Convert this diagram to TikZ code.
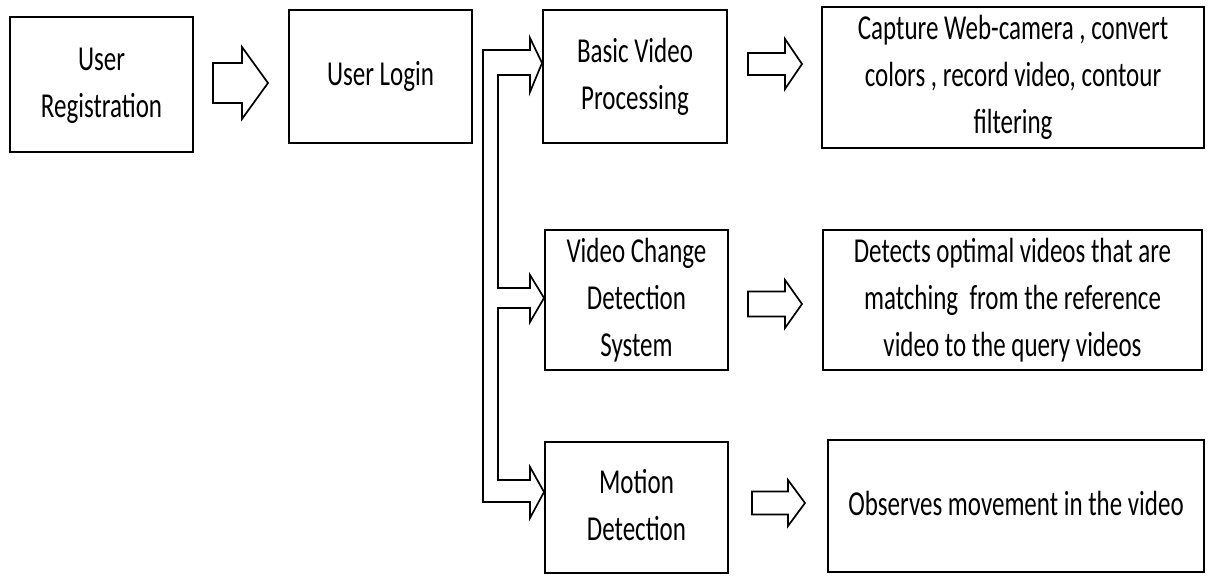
\documentclass[tikz,border=0pt]{standalone}
\usepackage{fontspec}
\setmainfont{Carlito}
\usepackage{graphicx}
\usetikzlibrary{calc}
\newcommand{\vtxt}[1]{\scalebox{1}[1.4]{\begin{tabular}{@{}c@{}}#1\end{tabular}}}
\newcommand{\blockarr}[6]{% x0 xbase xtip ycenter halfshaft halfhead
  \draw[hollow] (#1,#4-#5) -- (#2,#4-#5) -- (#2,#4-#6) -- (#3,#4) -- (#2,#4+#6) -- (#2,#4+#5) -- (#1,#4+#5) -- cycle;}
\begin{document}
\begin{tikzpicture}[x=1pt,y=-1pt,
  box/.style={draw, line width=1.9pt, inner sep=0pt, align=center,
    font=\fontsize{25}{33.5}\selectfont},
  hollow/.style={draw, line width=1.7pt, fill=white, line join=miter}]
\useasboundingbox (0,0) rectangle (1211,576);

\node[box, minimum width=183pt, minimum height=135pt] (reg) at (101.5,84.5) {\vtxt{User\\Registration}};
\node[box, minimum width=183pt, minimum height=133pt] (login) at (380.5,76.5) {\vtxt{User Login}};
\node[box, minimum width=184pt, minimum height=133pt] (basic) at (635,76.5) {\vtxt{Basic Video\\Processing}};
\node[box, minimum width=382pt, minimum height=135pt] (capture) at (1013,77.5) {\vtxt{Capture Web-camera , convert\\colors , record video, contour\\filtering}};
\node[box, minimum width=183pt, minimum height=134pt] (vcd) at (636.5,300) {\vtxt{Video Change\\Detection\\System}};
\node[box, minimum width=379pt, minimum height=134pt] (detects) at (1012.5,300) {\vtxt{Detects optimal videos that are\\matching\ \ from the reference\\video to the query videos}};
\node[box, minimum width=183pt, minimum height=131pt] (motion) at (636.5,507.5) {\vtxt{Motion\\Detection}};
\node[box, minimum width=376pt, minimum height=132pt] (observes) at (1016,506) {\vtxt{Observes movement in the video}};

% block arrows
\blockarr{213}{242}{268}{83}{20}{36}
\blockarr{748}{785}{802}{64}{11}{25}
\blockarr{748}{785}{802}{304}{12.5}{24}
\blockarr{752}{788}{805}{503}{11.5}{23}

% branching hollow connector from login
\draw[hollow] (483,50) -- (530,50) -- (530,38) -- (basic.west |- 0,63) -- (530,92) -- (530,75)
  -- (498,75) -- (498,288) -- (530,288) -- (530,275) -- (vcd.west |- 0,298) -- (530,322)
  -- (530,308) -- (498,308) -- (498,480) -- (530,480) -- (530,467) -- (motion.west |- 0,492)
  -- (530,518) -- (530,502) -- (483,502) -- cycle;
\end{tikzpicture}
\end{document}
